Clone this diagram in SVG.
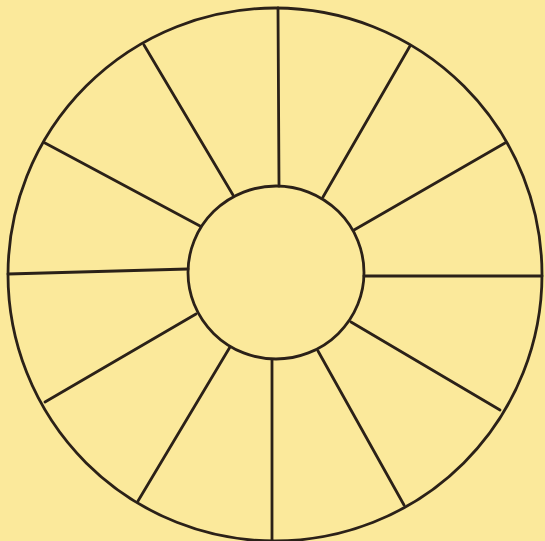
<svg xmlns="http://www.w3.org/2000/svg" width="545" height="541" viewBox="0 0 545 541">
<style>
.ln{stroke:#2b2118;stroke-width:2.8;fill:none;stroke-linecap:round}
</style>
<rect width="545" height="541" fill="#fbe99b"/>
<g id="outer"><ellipse class="ln" cx="275" cy="274.5" rx="267" ry="266.5"/></g>
<g id="connectors">
<line class="ln" x1="278" y1="8" x2="279" y2="186"/>
<line class="ln" x1="410" y1="46" x2="323" y2="197"/>
<line class="ln" x1="505" y1="143" x2="354" y2="230"/>
<line class="ln" x1="542" y1="276" x2="364" y2="276"/>
<line class="ln" x1="500" y1="410" x2="351" y2="322"/>
<line class="ln" x1="404" y1="505" x2="318" y2="351"/>
<line class="ln" x1="272" y1="541" x2="272" y2="360"/>
<line class="ln" x1="138" y1="501" x2="230" y2="347"/>
<line class="ln" x1="45" y1="402" x2="196" y2="314"/>
<line class="ln" x1="8" y1="274" x2="188" y2="269"/>
<line class="ln" x1="45" y1="143" x2="200" y2="226"/>
<line class="ln" x1="144" y1="45" x2="233" y2="195"/>
</g>
<g id="inner"><ellipse class="ln" cx="276" cy="272.5" rx="88" ry="86.5" fill="#fbe99b"/></g>
</svg>
